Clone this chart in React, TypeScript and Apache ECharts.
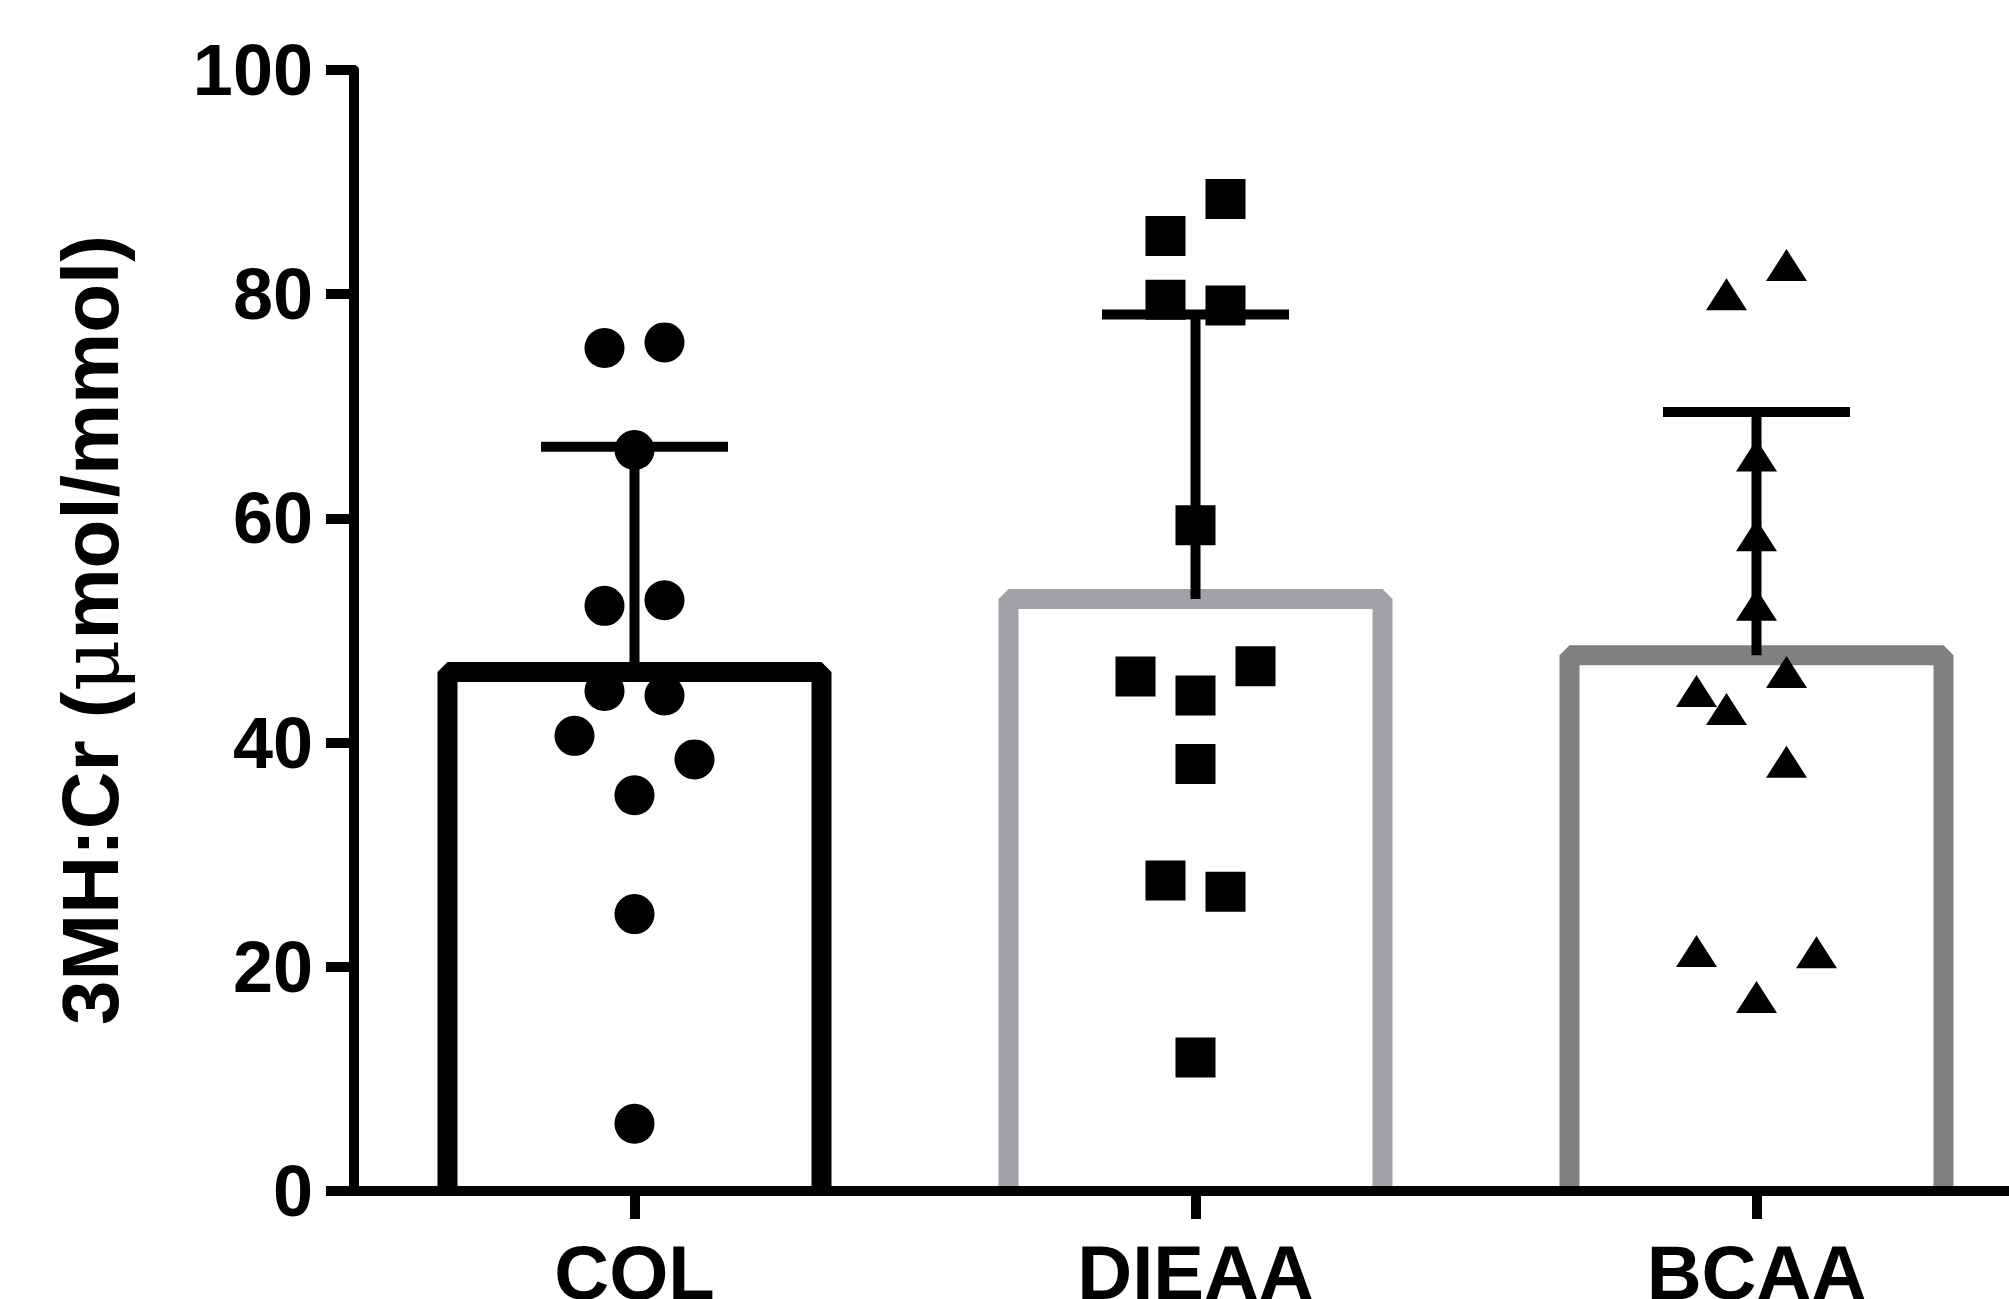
import React, { useEffect, useRef } from "react";
import * as echarts from "echarts";

const categories = ["COL", "DIEAA", "BCAA"];
const yTicks = [0, 20, 40, 60, 80, 100];
const groupMeans = [46.3, 52.8, 47.8];
const groupUpperSD = [66.4, 78.2, 69.5];

const colValues = [75.2, 75.7, 66.1, 52.2, 52.7, 44.6, 44.2, 40.6, 38.5, 35.3, 24.7, 6.0];
const colJitter = [-1, 1, 0, -1, 1, -1, 1, -2, 2, 0, 0, 0];
const dieaaValues = [88.5, 85.2, 79.5, 79.0, 59.4, 45.9, 46.8, 44.2, 38.1, 27.7, 26.7, 11.9];
const dieaaJitter = [1, -1, -1, 1, 0, -2, 2, 0, 0, -1, 1, 0];
const bcaaValues = [82.6, 80.0, 65.6, 58.5, 52.3, 46.3, 44.6, 43.0, 38.3, 21.4, 21.3, 17.3];
const bcaaJitter = [1, -1, 0, 0, 0, 1, -2, -1, 1, -2, 2, 0];

const barColors = ["#000000", "#a2a2a6", "#808080"];
const FONT = "'Liberation Sans', Arial, Helvetica, sans-serif";
const JITTER_PX = 30;

function scatterData(catIdx: number, values: number[], jitter: number[]) {
  return values.map((v, i) => ({
    value: [catIdx, v],
    symbolOffset: [jitter[i] * JITTER_PX, 0],
  }));
}

export default function App() {
  const ref = useRef<HTMLDivElement>(null);
  useEffect(() => {
    if (!ref.current) return;
    const chart = echarts.init(ref.current, null, { renderer: "svg" });
    const option: any = {
      animation: false,
      backgroundColor: "#ffffff",
      grid: {
        left: 354,
        width: 1683,
        top: 70,
        bottom: 108,
        containLabel: false,
        outerBoundsMode: "none",
      },
      xAxis: {
        type: "category",
        data: categories,
        z: 5,
        axisLine: { show: true, lineStyle: { color: "#000", width: 10 } },
        axisTick: { show: true, alignWithLabel: true, length: 28, lineStyle: { color: "#000", width: 10 } },
        axisLabel: { color: "#000", fontSize: 76, fontWeight: "bold", fontFamily: FONT, margin: 43 },
        splitLine: { show: false },
      },
      yAxis: {
        type: "value",
        min: 0,
        max: 100,
        interval: 20,
        z: 5,
        axisLine: { show: true, lineStyle: { color: "#000", width: 10 } },
        axisTick: { show: true, length: 28, lineStyle: { color: "#000", width: 10 } },
        axisLabel: {
          color: "#000",
          fontSize: 72,
          fontWeight: "bold",
          fontFamily: FONT,
          margin: 41,
          formatter: (v: number) => (yTicks.includes(v) ? String(v) : ""),
        },
        splitLine: { show: false },
      },
      graphic: [
        {
          type: "text",
          x: 90,
          y: 630,
          rotation: Math.PI / 2,
          style: {
            text: "3MH:Cr ({mu|μ}mol/mmol)",
            fontSize: 80,
            fontWeight: "bold",
            fontFamily: FONT,
            fill: "#000",
            textAlign: "center",
            textVerticalAlign: "middle",
            rich: {
              mu: { fontSize: 80, fontWeight: "normal", fontFamily: "'DejaVu Serif', serif", fill: "#000" },
            },
          },
        },
      ],
      series: [
        {
          type: "custom",
          z: 2,
          data: groupMeans.map((m, i) => [i, m]),
          renderItem: (params: any, api: any) => {
            const idx = api.value(0);
            const top = api.coord([idx, api.value(1)]);
            const base = api.coord([idx, 0]);
            const half = (api.size([1, 0])[0] * 2) / 3 / 2;
            return {
              type: "polyline",
              shape: {
                points: [
                  [top[0] - half, base[1]],
                  [top[0] - half, top[1]],
                  [top[0] + half, top[1]],
                  [top[0] + half, base[1]],
                ],
              },
              style: { stroke: barColors[idx], lineWidth: 20, fill: null, lineJoin: "bevel" },
            };
          },
        },
        {
          type: "custom",
          z: 3,
          data: groupMeans.map((m, i) => [i, m, groupUpperSD[i]]),
          renderItem: (params: any, api: any) => {
            const idx = api.value(0);
            const lo = api.coord([idx, api.value(1)]);
            const hi = api.coord([idx, api.value(2)]);
            const capHalf = api.size([1, 0])[0] / 3 / 2;
            return {
              type: "group",
              children: [
                { type: "line", shape: { x1: lo[0], y1: lo[1], x2: hi[0], y2: hi[1] }, style: { stroke: "#000", lineWidth: 10 } },
                { type: "line", shape: { x1: hi[0] - capHalf, y1: hi[1], x2: hi[0] + capHalf, y2: hi[1] }, style: { stroke: "#000", lineWidth: 10 } },
              ],
            };
          },
        },
        {
          type: "scatter",
          z: 4,
          symbol: "circle",
          symbolSize: 40,
          itemStyle: { color: "#000", opacity: 1 },
          data: scatterData(0, colValues, colJitter),
        },
        {
          type: "scatter",
          z: 4,
          symbol: "rect",
          symbolSize: 40,
          itemStyle: { color: "#000", opacity: 1 },
          data: scatterData(1, dieaaValues, dieaaJitter),
        },
        {
          type: "scatter",
          z: 4,
          symbol: "triangle",
          symbolSize: [41, 32],
          itemStyle: { color: "#000", opacity: 1 },
          data: scatterData(2, bcaaValues, bcaaJitter),
        },
      ],
    };
    chart.setOption(option);
    return () => chart.dispose();
  }, []);
  return (
    <div
      ref={ref}
      style={{ position: "fixed", left: 0, top: 0, width: 2009, height: 1299, background: "#fff" }}
    />
  );
}
